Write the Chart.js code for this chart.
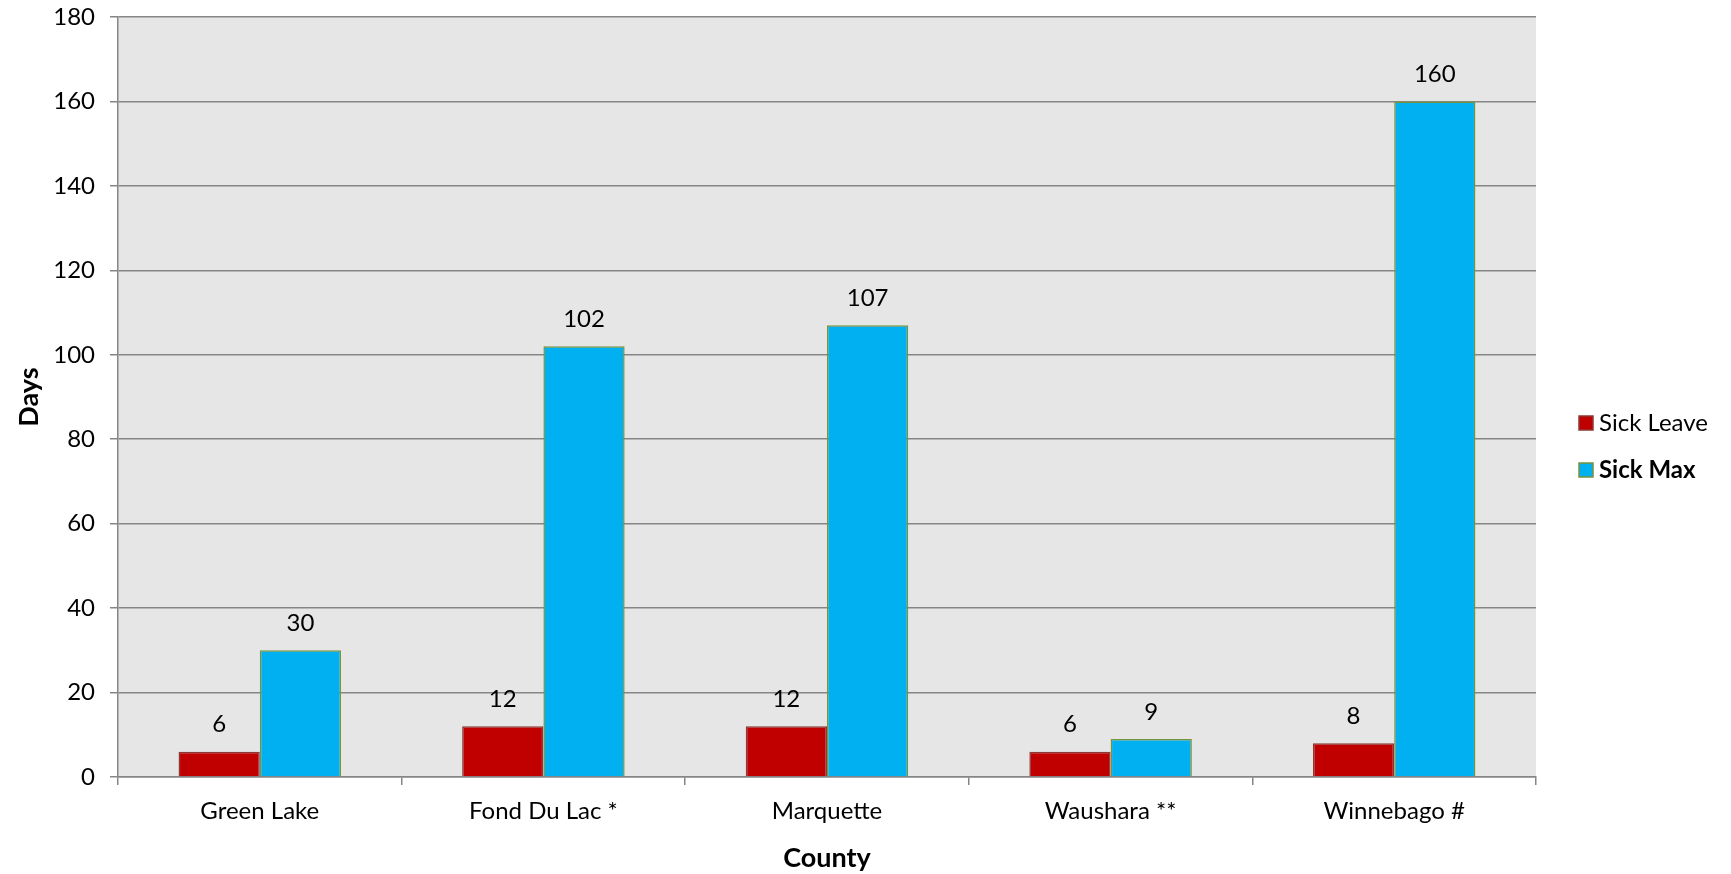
<!DOCTYPE html>
<html>
<head>
<meta charset="utf-8">
<script src="https://cdn.jsdelivr.net/npm/chart.js@4"></script>
<style>
  html, body { margin: 0; padding: 0; background: #ffffff; }
  #wrap { width: 1731px; height: 874px; position: relative; }
</style>
</head>
<body>
<div id="wrap"><canvas id="chart" width="1731" height="874"></canvas></div>
<script>
// Counties and their sick-day figures
const counties = ['Green Lake', 'Fond Du Lac *', 'Marquette', 'Waushara **', 'Winnebago #'];
const sickLeave = [6, 12, 12, 6, 8];
const sickMax = [30, 102, 107, 9, 160];
const yTicks = [0, 20, 40, 60, 80, 100, 120, 140, 160, 180];

const FONT = 'Lato, "Open Sans", sans-serif';
const TEXT = '#000000';

// Grey plot background behind the bars
const plotBackground = {
  id: 'plotBackground',
  beforeDraw(chart) {
    const { ctx, chartArea: a } = chart;
    ctx.save();
    ctx.fillStyle = '#E6E6E6';
    ctx.fillRect(a.left, a.top, a.right - a.left, a.bottom - a.top);
    ctx.restore();
  }
};

// Value labels above each bar
const valueLabels = {
  id: 'valueLabels',
  afterDatasetsDraw(chart) {
    const { ctx } = chart;
    ctx.save();
    ctx.font = '24px ' + FONT;
    ctx.fillStyle = TEXT;
    ctx.textAlign = 'center';
    ctx.textBaseline = 'middle';
    chart.data.datasets.forEach((ds, i) => {
      const meta = chart.getDatasetMeta(i);
      meta.data.forEach((bar, j) => {
        ctx.fillText(String(ds.data[j]), bar.x, bar.y - 27);
      });
    });
    ctx.restore();
  }
};

// Legend on the right; the second entry is set in bold
const sideLegend = {
  id: 'sideLegend',
  afterDraw(chart) {
    const { ctx } = chart;
    const items = [
      { label: 'Sick Leave', fill: '#C00000', stroke: '#8C3836', weight: 'normal', y: 423 },
      { label: 'Sick Max', fill: '#00B0F0', stroke: '#77933C', weight: 'bold', y: 470 }
    ];
    ctx.save();
    items.forEach(it => {
      ctx.fillStyle = it.fill;
      ctx.fillRect(1579, it.y - 7, 14, 14);
      ctx.strokeStyle = it.stroke;
      ctx.lineWidth = 1.5;
      ctx.strokeRect(1579, it.y - 7, 14, 14);
      ctx.fillStyle = TEXT;
      ctx.font = it.weight + ' 24px ' + FONT;
      ctx.textAlign = 'left';
      ctx.textBaseline = 'middle';
      ctx.fillText(it.label, 1599, it.y);
    });
    ctx.restore();
  }
};

new Chart(document.getElementById('chart'), {
  type: 'bar',
  data: {
    labels: counties,
    datasets: [
      {
        label: 'Sick Leave',
        data: sickLeave,
        backgroundColor: '#C00000',
        borderColor: '#8C3836',
        borderWidth: 1.5,
        borderSkipped: 'bottom',
        categoryPercentage: 0.573,
        barPercentage: 1.0
      },
      {
        label: 'Sick Max',
        data: sickMax,
        backgroundColor: '#00B0F0',
        borderColor: '#77933C',
        borderWidth: 1.5,
        borderSkipped: 'bottom',
        categoryPercentage: 0.573,
        barPercentage: 1.0
      }
    ]
  },
  options: {
    responsive: false,
    animation: false,
    layout: { padding: { top: 17, right: 195, left: 0, bottom: 0 } },
    plugins: {
      legend: { display: false },
      tooltip: { enabled: false }
    },
    scales: {
      x: {
        grid: {
          offset: true,
          drawOnChartArea: false,
          drawTicks: true,
          tickLength: 8,
          color: '#868686',
          lineWidth: 1.5
        },
        border: { color: '#868686', width: 1.5 },
        ticks: {
          color: TEXT,
          font: { family: FONT, size: 24 },
          padding: 12,
          maxRotation: 0
        },
        title: {
          display: true,
          text: 'County',
          color: TEXT,
          font: { family: FONT, size: 27, weight: 'bold' },
          padding: { top: 4, bottom: 0 }
        },
        afterFit(scale) {
          scale.height = 97;
          scale.paddingLeft = 0;
          scale.paddingRight = 0;
        }
      },
      y: {
        min: 0,
        max: 180,
        afterBuildTicks(scale) { scale.ticks = yTicks.map(v => ({ value: v })); },
        grid: {
          color: '#868686',
          lineWidth: 1.5,
          drawTicks: true,
          tickLength: 8
        },
        border: { color: '#868686', width: 1.5 },
        ticks: {
          color: TEXT,
          font: { family: FONT, size: 24 },
          padding: 15
        },
        title: {
          display: true,
          text: 'Days',
          color: TEXT,
          font: { family: FONT, size: 27, weight: 'bold' },
          padding: { top: 13, bottom: 0 }
        },
        afterFit(scale) {
          scale.width = 118;
          scale.paddingTop = 0;
          scale.paddingBottom = 0;
        }
      }
    }
  },
  plugins: [plotBackground, valueLabels, sideLegend]
});
</script>
</body>
</html>
